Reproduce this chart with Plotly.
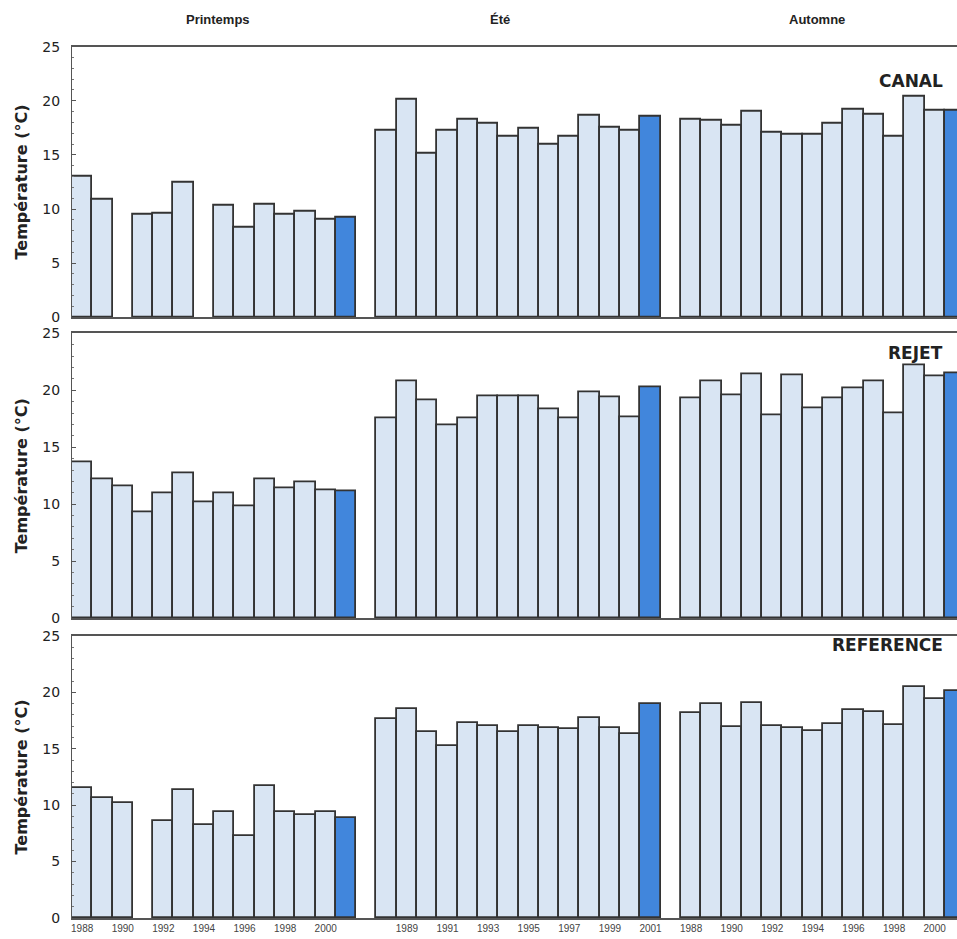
import plotly.graph_objects as go

years = list(range(1988, 2002))
seasons = ["Printemps", "Été", "Automne"]
panels = ["CANAL", "REJET", "REFERENCE"]

# CANAL
canal_printemps = [13.0, 10.9, None, 9.45, 9.6, 12.4, None, 10.3, 8.3, 10.45, 9.45, 9.8, 9.0, 9.2]
canal_ete = [17.25, 20.1, 15.1, 17.25, 18.3, 17.85, 16.65, 17.4, 15.95, 16.7, 18.6, 17.55, 17.2, 18.5]
canal_automne = [18.3, 18.15, 17.7, 19.0, 17.1, 16.9, 16.85, 17.9, 19.15, 18.7, 16.7, 20.4, 19.1, 19.1]
# REJET
rejet_printemps = [13.7, 12.15, 11.55, 9.25, 10.95, 12.75, 10.2, 10.95, 9.85, 12.15, 11.4, 11.9, 11.25, 11.1]
rejet_ete = [17.5, 20.75, 19.1, 16.9, 17.5, 19.5, 19.5, 19.5, 18.35, 17.5, 19.8, 19.35, 17.6, 20.3]
rejet_automne = [19.3, 20.8, 19.6, 21.4, 17.8, 21.3, 18.45, 19.3, 20.15, 20.75, 17.95, 22.2, 21.2, 21.5]
# REFERENCE
ref_printemps = [11.5, 10.6, 10.2, None, 8.6, 11.35, 8.25, 9.4, 7.3, 11.7, 9.4, 9.15, 9.4, 8.85]
ref_ete = [17.65, 18.5, 16.45, 15.25, 17.3, 17.05, 16.45, 17.0, 16.8, 16.75, 17.7, 16.8, 16.3, 18.95]
ref_automne = [18.15, 18.95, 16.9, 19.1, 17.05, 16.8, 16.6, 17.2, 18.45, 18.3, 17.1, 20.5, 19.4, 20.15]

data = {
    "CANAL": [canal_printemps, canal_ete, canal_automne],
    "REJET": [rejet_printemps, rejet_ete, rejet_automne],
    "REFERENCE": [ref_printemps, ref_ete, ref_automne],
}

# labelled years under each season group
tick_years = [list(range(1988, 2001, 2)), list(range(1989, 2002, 2)), list(range(1988, 2001, 2))]

LIGHT = "#d9e5f3"
DARK = "#4186dc"
EDGE = "#333333"
GROUP_STEP = len(years) + 1

# vertical extents of the three panels (paper fractions)
domains = [[0.6621, 0.9503], [0.3418, 0.6450], [0.0224, 0.3227]]

fig = go.Figure()

for p, name in enumerate(panels):
    xs, ys, cols = [], [], []
    for g, vals in enumerate(data[name]):
        for i, (yr, v) in enumerate(zip(years, vals)):
            xs.append(g * GROUP_STEP + i)
            ys.append(v)
            cols.append(DARK if yr == 2001 else LIGHT)
    ax = "" if p == 0 else str(p + 1)
    fig.add_trace(go.Bar(
        x=xs, y=ys, width=1.0,
        marker=dict(color=cols, line=dict(color=EDGE, width=1.8)),
        xaxis="x" + ax, yaxis="y" + ax, showlegend=False,
        hoverinfo="x+y",
    ))

tickvals, ticktext = [], []
for g, tys in enumerate(tick_years):
    for yr in tys:
        tickvals.append(g * GROUP_STEP + years.index(yr))
        ticktext.append(str(yr))

layout = dict(
    width=957, height=939,
    margin=dict(l=72, r=0, t=0, b=0),
    paper_bgcolor="white", plot_bgcolor="white",
    bargap=0,
    font=dict(family="DejaVu Sans", color="#222"),
)

for p in range(3):
    ax = "" if p == 0 else str(p + 1)
    xkey = "xaxis" + ax
    ykey = "yaxis" + ax
    bottom = (p == 2)
    layout[xkey] = dict(
        domain=[0, 1], range=[-0.5, 43.1], anchor="y" + ax, automargin=False,
        showline=True, mirror=True, linecolor="#555", linewidth=1.5,
        showgrid=False, zeroline=False,
        tickmode="array", tickvals=tickvals if bottom else [], ticktext=ticktext if bottom else [],
        showticklabels=bottom, ticks="",
        tickfont=dict(family="Liberation Sans Narrow, Arial Narrow, sans-serif", size=10, color="#444"),
    )
    layout[ykey] = dict(
        domain=domains[p], range=[0, 25], anchor="x" + ax, automargin=False,
        showline=True, linecolor="#555", linewidth=1.2,
        showgrid=False, zeroline=False,
        tickmode="array", tickvals=[0, 5, 10, 15, 20, 25],
        ticks="inside", ticklen=4, tickcolor="#555",
        ticklabelstandoff=8,
        minor=dict(ticks="inside", ticklen=2, dtick=1, tickcolor="#777"),
        tickfont=dict(family="DejaVu Sans", size=14, color="#222"),
        title=dict(text="Température (°C)", standoff=10,
                   font=dict(family="DejaVu Sans", size=16, color="#222", weight="bold")),
    )

fig.update_layout(**layout)

# season headings
season_x = [6.7, 20.6, 36.2]
for s, sx in zip(seasons, season_x):
    fig.add_annotation(x=sx, y=0.989, xref="x", yref="paper", text="<b>%s</b>" % s,
                       showarrow=False, font=dict(family="Liberation Sans", size=13, color="#222"))

# panel names
panel_y = [0.927, 0.624, 0.300]
for name, py in zip(panels, panel_y):
    fig.add_annotation(x=0.986, y=py, xref="paper", yref="paper", xanchor="right",
                       text="<b>%s</b>" % name, showarrow=False,
                       font=dict(family="DejaVu Sans", size=17, color="#222"))

fig.write_html("out.html")
